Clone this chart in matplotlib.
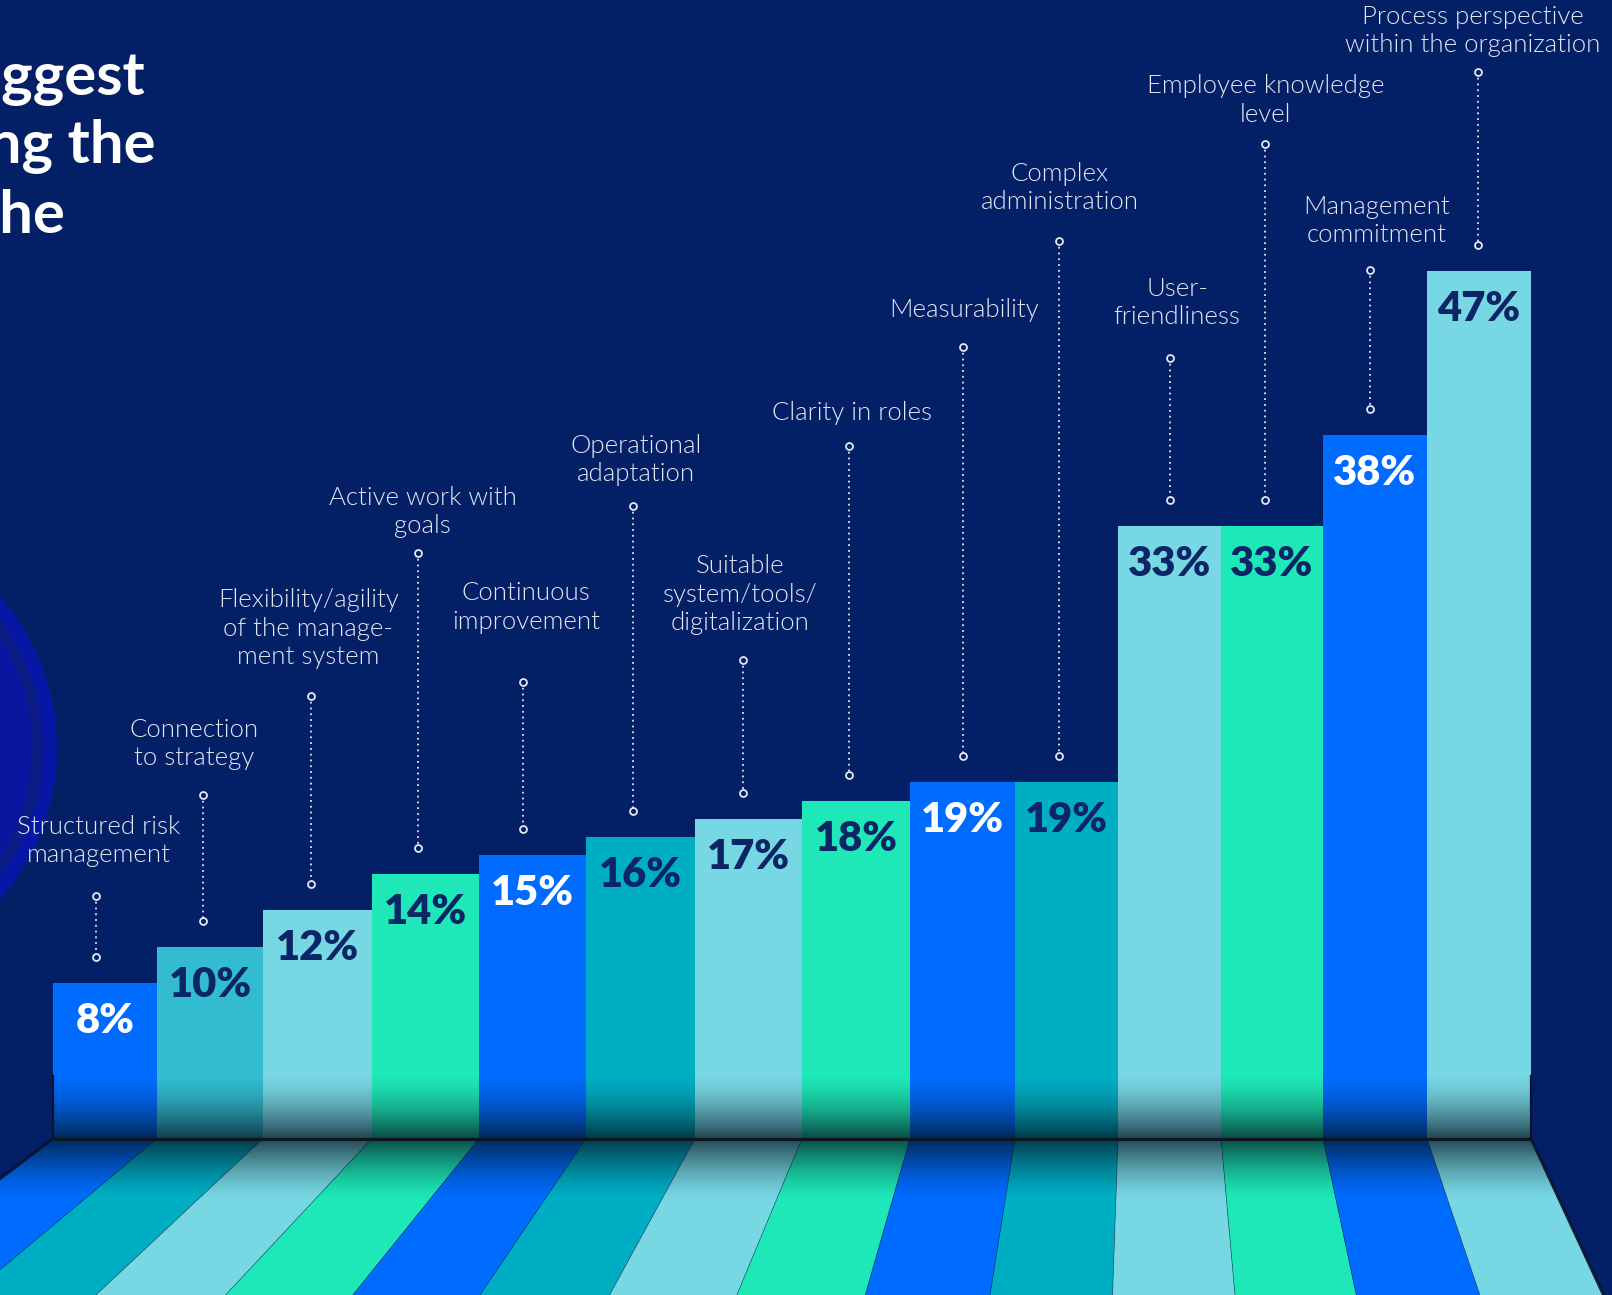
import numpy as np
import matplotlib.pyplot as plt
from matplotlib.patches import Circle, Polygon

# answers and share of respondents (%)
categories = [
    'Structured risk\nmanagement',
    'Connection\nto strategy',
    'Flexibility/agility\nof the manage-\nment system',
    'Active work with\ngoals',
    'Continuous\nimprovement',
    'Operational\nadaptation',
    'Suitable\nsystem/tools/\ndigitalization',
    'Clarity in roles',
    'Measurability',
    'Complex\nadministration',
    'User-\nfriendliness',
    'Employee knowledge\nlevel',
    'Management\ncommitment',
    'Process perspective\nwithin the organization',
]
values = [8, 10, 12, 14, 15, 16, 17, 18, 19, 19, 33, 33, 38, 47]
value_labels = [f'{v}%' for v in values]

title_lines = ['The biggest', 'challenges during the', 'the']

# colours
bg = '#031f66'
blue, teal, teal2, light, mint = '#006cff', '#00aec4', '#33bccf', '#77d7e2', '#1ee8b8'
bar_colors = [blue, teal2, light, mint, blue, teal, light, mint,
              blue, teal, light, mint, blue, light]
floor_colors = [blue, teal, light, mint, blue, teal, light, mint,
                blue, teal, light, mint, blue, light]
text_dark = '#0b2566'
label_col = '#e2e8f4'

# layout in figure pixels (from the left / from the top)
W, H = 1612, 1295
base_px = 1138.5        # floor line
px_per_pct = 18.27
floor_v = -0.5          # the floor sits a little under zero
x0_px, step_px = 53, 105.57
bar_edges_px = [53, 157, 263, 372, 479, 586, 695, 802, 910, 1015, 1118, 1221, 1323, 1427, 1531]
label_x_px = [98.7, 194.3, 308.4, 422.5, 526.3, 636.4, 740.2, 852.3, 964.3, 1060, 1177, 1265.5, 1376.5, 1473]
label_y_px = [826.5, 730, 600.4, 497.6, 593, 446, 566.4, 413.3, 310.5, 173.7, 288.9, 86.4, 206.7, 16.7]
conn_x_px = [96, 203, 311.5, 418.4, 523.3, 633.3, 742.6, 849.2, 963.5, 1058.9, 1169.7, 1265.3, 1369.6, 1477.6]
conn_top_px = [896.4, 794.6, 696, 553, 681.6, 505.8, 660, 446.2, 346.7, 240.6, 357.8, 144, 270, 71.7]


def px2x(p):
    return (np.asarray(p, float) - x0_px) / step_px - 0.5


def px2v(p):
    return floor_v + (base_px - np.asarray(p, float)) / px_per_pct


fig = plt.figure(figsize=(W / 100, H / 100), dpi=100)
fig.patch.set_facecolor(bg)

# background layer in pixel units: decorative circle + title
bgax = fig.add_axes([0, 0, 1, 1])
bgax.set_xlim(0, W)
bgax.set_ylim(H, 0)
bgax.axis('off')
bgax.set_facecolor(bg)
for r, c in [(229, '#0617a6'), (215, '#0b1d84'), (204, '#0a16a0')]:
    bgax.add_patch(Circle((-172, 748), r, color=c, lw=0))
for txt, xr, yb in zip(title_lines, [145, 156, 65], [95, 163, 233]):
    bgax.text(xr, yb, txt, ha='right', va='baseline', color='white',
              fontsize=43, fontweight='bold', family='Lato')

ax = fig.add_axes([0, 0, 1, 1])
ax.patch.set_alpha(0)
ax.axis('off')

edges = px2x(bar_edges_px)
centers = (edges[:-1] + edges[1:]) / 2
widths = np.diff(edges)

# perspective floor under the bars
C = px2x(1147)      # vanishing x
v_bot = floor_v - 9.0
def floor_x(xb, v=v_bot):
    return C + (xb - C) * (1 + 0.02206 * (floor_v - v))

for i, col in enumerate(floor_colors):
    xa, xb = edges[i], edges[i + 1]
    ax.fill([xa, xb, floor_x(xb), floor_x(xa)], [floor_v, floor_v, v_bot, v_bot],
            color=col, lw=0, zorder=1)

ax.bar(centers, np.array(values) - floor_v, bottom=floor_v, width=widths,
       color=bar_colors, lw=0, zorder=2)

# shadow where the bars meet the floor
up, down = 65 / px_per_pct, 61 / px_per_pct
v_grid = np.linspace(v_bot, floor_v + up, 500)
d = v_grid - floor_v
alpha = np.where(d >= 0,
                 0.72 * np.clip((up - d) / up, 0, 1) ** 1.6,
                 0.72 * np.clip(1 + d / down, 0, 1) ** 1.4)
img = np.zeros((len(v_grid), 1, 4))
img[..., 0], img[..., 1], img[..., 2] = 0.0, 0.05, 0.09
img[:, 0, 3] = alpha
im = ax.imshow(img, extent=[-3, 14.6, v_bot, floor_v + up], origin='lower',
               aspect='auto', zorder=3, interpolation='bilinear')
clip = Polygon([(edges[0], floor_v + up), (edges[-1], floor_v + up),
                (edges[-1], floor_v), (floor_x(edges[-1]), v_bot),
                (floor_x(edges[0]), v_bot), (edges[0], floor_v)],
               closed=True, transform=ax.transData)
im.set_clip_path(clip)

# strip edges, outer walls and the floor line
for k, xb in enumerate(edges):
    outer = k in (0, len(edges) - 1)
    ax.plot([xb, floor_x(xb)], [floor_v, v_bot], color='#06122e',
            lw=2.2 if outer else 0.5, alpha=0.9 if outer else 0.5, zorder=4)
for xb in (edges[0], edges[-1]):
    ax.plot([xb, xb], [floor_v, floor_v + 3.4], color='#06122e', lw=1.6, zorder=4)
ax.plot([edges[0], edges[-1]], [floor_v, floor_v], color='#0b1620', lw=2.2,
        zorder=4, solid_capstyle='butt')

# value labels inside the bars
for i, (v, lab) in enumerate(zip(values, value_labels)):
    col = 'white' if bar_colors[i] == blue else text_dark
    ax.text(centers[i], v - 50 / px_per_pct, lab, ha='center', va='baseline',
            color=col, fontsize=30, fontweight='heavy', family='Lato', zorder=5)

# dotted leader lines and category names
cx, ctop = px2x(conn_x_px), px2v(conn_top_px)
lx, ly = px2x(label_x_px), px2v(np.array(label_y_px) + 7)
line_step = 28.5 / px_per_pct
for i, name in enumerate(categories):
    top, bot = ctop[i], values[i] + 26 / px_per_pct
    ax.plot([cx[i], cx[i]], [top, bot], color=label_col, lw=1.3,
            ls=(0, (1, 2.2)), zorder=5)
    ax.plot([cx[i]] * 2, [top, bot], ls='none', marker='o', ms=5,
            mfc=bg, mec=label_col, mew=1.3, zorder=6)
    for j, line in enumerate(name.split('\n')):
        ax.text(lx[i], ly[i] - j * line_step, line,
                ha='center', va='baseline', color=label_col, fontsize=18.5,
                fontweight=300, family='Lato', zorder=5)

ax.set_xlim(px2x(0), px2x(W))
ax.set_ylim(px2v(H), px2v(0))

fig.savefig('out.png', dpi=100, facecolor=bg)
